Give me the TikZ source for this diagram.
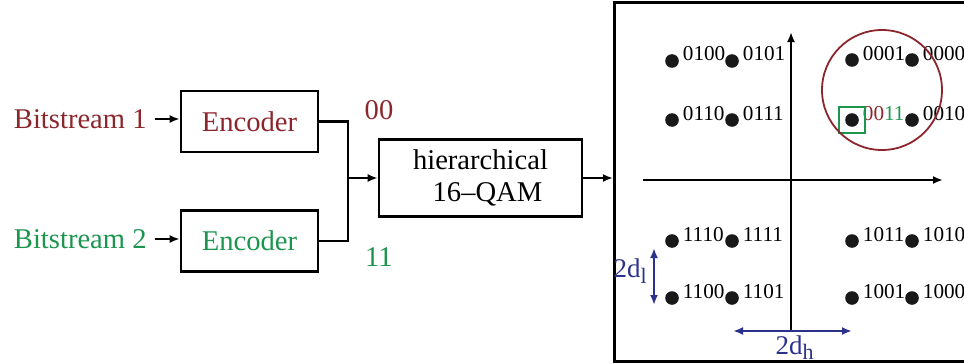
\documentclass[tikz,border=0pt]{standalone}
\usepackage{fontspec}
\setmainfont{Liberation Serif}
\usetikzlibrary{positioning, arrows.meta}
\definecolor{bitred}{RGB}{140,38,44}
\definecolor{bitgreen}{RGB}{28,150,78}
\definecolor{dimblue}{RGB}{44,50,140}

\begin{document}
\begin{tikzpicture}[x=0.5pt, y=-0.5pt, >={Latex[length=5pt, width=4pt]}, line width=1.3pt,
    font=\fontsize{14.3}{16}\selectfont,
    blok/.style={draw, minimum width=68.5pt, minimum height=30.5pt, inner sep=0pt},
    bod/.style={circle, fill=black!90, inner sep=0pt, minimum size=6.8pt},
    bity/.style={anchor=base west, inner sep=0pt, font=\fontsize{10.6}{12}\selectfont}]

    \useasboundingbox (0,0) rectangle (964,364);

    % Vstupy a kodery
    \node[text=bitred, anchor=west] (bs1) at (6,119) {Bitstream 1};
    \node[text=bitgreen, anchor=west] (bs2) at (6,239) {Bitstream 2};
    \node[blok, text=bitred] (enc1) at (249.5,121.5) {Encoder};
    \node[blok, text=bitgreen] (enc2) at (249.5,241) {Encoder};
    \draw[->] (bs1) -- (bs1 -| enc1.west);
    \draw[->] (bs2) -- (bs2 -| enc2.west);

    % Modulator
    \node[blok, minimum width=101.5pt, minimum height=38.5pt, align=center,
          font=\fontsize{14.3}{16}\selectfont] (qam) at (480.5,178)
          {hierarchical\\\hspace*{7pt}16--QAM};
    \coordinate (jn) at (348,178);
    \draw (enc1.east) -| (jn);
    \draw (enc2.east) -| (jn);
    \draw[->] (jn) -- (qam.west);
    \node[text=bitred] (c00) at (379,110) {00};
    \node[text=bitgreen] (c11) at (379,257) {11};

    % Konstelace
    \node[draw, anchor=north west, minimum width=190pt, minimum height=179.5pt,
          inner sep=0pt] (pan) at (613,1) {};
    \draw[->] (qam.east) -- (qam.east -| pan.west);

    \coordinate (xa) at (643,180);
    \coordinate (xb) at (943,180);
    \coordinate (ya) at (791,331);
    \coordinate (yb) at (791,32);
    \draw[->] (xa) -- (xb);
    \draw[->] (ya) -- (yb);

    \foreach \px/\py/\bits in {672/61/0100, 732/61/0101, 852/60/0001, 912/60/0000,
                               672/120/0110, 732/120/0111, 912/120/0010,
                               672/241/1110, 732/241/1111, 852/241/1011, 912/241/1010,
                               672/298/1100, 732/298/1101, 852/298/1001, 912/298/1000} {
        \node[bod] (d\bits) at (\px,\py) {};
        \node[bity] (t\bits) at ([xshift=4.8pt]d\bits.center) {\bits};
    }
    \node[bod] (d0011) at (852,120) {};
    \node[bity] (t0011) at ([xshift=4.8pt]d0011.center)
          {\textcolor{bitred}{00}\textcolor{bitgreen}{11}};

    % Vybrany bod a kruh
    \node[draw=bitgreen, line width=1pt, minimum size=12.8pt, inner sep=0pt] (sel) at (d0011) {};
    \node[draw=bitred, line width=0.9pt, circle, minimum size=60pt, inner sep=0pt] (kruh) at (882,90) {};

    % Vzdalenosti
    \coordinate (la) at (654,248);
    \coordinate (lb) at (654,305);
    \draw[<->, dimblue] (la) -- (lb);
    \node[text=dimblue, font=\fontsize{13.5}{14}\selectfont, anchor=east, inner sep=1pt] (dl) at (651,271)
          {2d\textsubscript{\fontsize{11}{12}\selectfont l}};
    \coordinate (ha) at (733,331);
    \coordinate (hb) at (852,331);
    \draw[<->, dimblue] (ha) -- (hb);
    \node[text=dimblue, font=\fontsize{13.5}{14}\selectfont, anchor=north, inner sep=1pt] (dh) at (795,332)
          {2d\textsubscript{\fontsize{11}{12}\selectfont h}};

\end{tikzpicture}
\end{document}
